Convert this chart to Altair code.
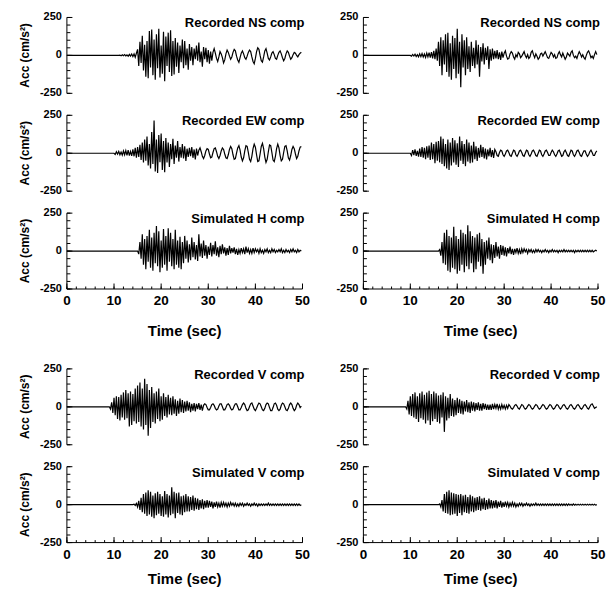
import altair as alt
import pandas as pd

FONT = "Liberation Sans"
DT = 0.25

# ---------------- traces (cm/s^2), sampled every 0.25 s from the start time ----------------
ns_left_t0 = 11
ns_left = [
    0, 2, -3, 4, -2, 5, -4, 3,
    -6, 7, -5, 9, -8, 10, -12, 14,
    40, -70, 90, -50, 130, -100, 70, -140,
    95, -150, 160, -80, 170, -130, 105, -160,
    140, -85, 175, -145, 65, -120, 155, -170,
    125, -70, 150, -110, 165, -135, 95, -125,
    115, -75, 85, -115, 65, -45, 105, -85,
    95, -65, 45, -95, 75, -35, 55, -65,
    45, -25, 65, -35, 85, -45, 25, -75,
    55, -25, 50, -45, 35, -55, 25, -35,
    20, 45, 15, -20, -40, -10, 25, 10,
    -15, -50, -30, 10, 35, 20, -5, -25,
    -10, 20, 40, 30, -5, -30, -45, -15,
    15, 30, 10, -15, -25, -5, 20, 35,
    25, -10, -40, -55, -20, 25, 50, 40,
    0, -35, -45, -10, 30, 45, 15, -20,
    -30, -10, 15, 25, 5, -20, -25, 0,
    20, 30, 10, -15, -35, -20, 10, 30,
    20, -5, -25, -15, 5, 20, 15, 0,
    -10, 5, 15, 20,
]

ew_left_t0 = 10
ew_left = [
    0, -8, 10, -6, 12, -10, 8, -12,
    15, -10, 18, -14, 20, -15, 12, -18,
    25, -20, 35, -30, 40, -25, 55, -45,
    70, -60, 90, -50, 110, -80, 60, -100,
    140, -70, 215, -120, 90, -130, 120, -60,
    130, -110, 80, -125, 100, -60, 70, -90,
    60, -40, 95, -70, 50, -30, 80, -55,
    40, -30, 60, -35, 45, -50, 30, -25,
    35, -20, 40, -30, 25, -40, 30, -15,
    20, 35, 10, -20, -35, -15, 15, 30,
    25, -5, -30, -25, 5, 30, 35, 10,
    -20, -35, -15, 15, 35, 25, -5, -30,
    -35, -10, 25, 45, 30, -10, -40, -35,
    0, 35, 50, 20, -25, -50, -30, 15,
    50, 45, 5, -40, -55, -20, 30, 60,
    40, -10, -55, -50, -5, 45, 65, 30,
    -25, -60, -40, 10, 55, 50, 5, -45,
    -55, -20, 30, 60, 35, -15, -50, -40,
    5, 45, 50, 15, -30, -45, -15, 25,
    45, 30, -5, -35, -20, 15, 40, 45,
]

simh_left_t0 = 15
simh_left = [
    0, -20, 60, -50, 110, -90, 80, -120,
    100, -70, 140, -110, 90, -130, 120, -80,
    165, -100, 130, -140, 70, -110, 145, -90,
    100, -130, 150, -70, 120, -100, 80, -120,
    140, -90, 70, -110, 95, -120, 60, -80,
    100, -50, 70, -75, 45, -60, 90, -40,
    60, -55, 40, -65, 110, -35, 50, -45,
    70, -30, 40, -50, 30, -25, 55, -35,
    40, -20, 65, -30, 25, -40, 35, -20,
    45, -15, 25, -30, 20, -25, 35, -15,
    20, -10, 25, -20, 15, -25, 10, -15,
    20, -10, 15, -20, 30, -10, 15, -15,
    10, -15, 20, -10, 15, -5, 10, -15,
    15, -10, 5, -15, 10, -5, 15, -10,
    5, -10, 15, -5, 10, -10, 5, -5,
    10, -5, 15, -10, 5, -10, 10, -5,
    5, -10, 10, -5, 15, -5, 5, -10,
    10, -5, 5, 0,
]

ns_right_t0 = 10
ns_right = [
    0, -5, 6, -4, 8, -7, 5, -9,
    10, -8, 12, -11, 9, -13, 15, -10,
    18, -15, 22, -20, 30, -25, 45, -35,
    90, -70, 120, -130, 100, -60, 140, -110,
    150, -140, 80, -160, 130, -90, 115, -150,
    175, -120, 90, -210, 140, -80, 100, -130,
    120, -90, 60, -110, 90, -70, 50, -85,
    100, -60, 70, -140, 55, -40, 80, -60,
    50, -30, 60, -90, 40, -35, 45, -25,
    30, -20, 35, -25, 20, -30, 25, -15,
    15, 30, -5, -25, -20, 10, 25, 15,
    -10, -25, 5, -10, 20, 10, -15, -5,
    10, 25, 0, -15, 5, -20, -10, 20,
    30, 5, -15, 10, -5, -25, -15, 10,
    15, -5, 10, 25, 5, -15, -20, 0,
    20, 10, -10, 5, -20, -15, 10, 25,
    5, -10, 15, -5, -25, -10, 15, 5,
    -5, 20, 30, 0, -15, -5, -20, 5,
    25, 10, -10, 5, -15, -25, 0, 20,
    30, 10, -15, -5, -20, 5, 25, 5,
]

ew_right_t0 = 10
ew_right = [
    0, -15, 20, -12, 25, -18, 15, -22,
    30, -25, 40, -30, 35, -40, 45, -30,
    50, -45, 70, -40, 60, -65, 75, -50,
    80, -60, 110, -70, 95, -85, 60, -100,
    90, -110, 70, -80, 100, -60, 85, -75,
    65, -90, 110, -50, 80, -70, 60, -85,
    90, -55, 70, -65, 50, -60, 75, -40,
    45, -50, 35, -30, 55, -25, 40, -35,
    30, -40, 25, -20, 35, -25, 20, -30,
    25, 10, -15, -20, 5, 20, 15, -10,
    -20, -5, 15, 20, 5, -15, -20, 0,
    20, 15, -10, -20, -5, 15, 20, 5,
    -15, -20, 0, 20, 15, -10, -20, -5,
    15, 20, 5, -15, -20, 0, 20, 15,
    -10, -20, -5, 15, 20, 5, -15, -15,
    5, 20, 10, -10, -20, -5, 15, 20,
    0, -20, -15, 10, 20, 5, -15, -20,
    0, 20, 15, -10, -20, -5, 15, 20,
    5, -15, -20, 0, 15, 15, -5, -20,
    -10, 10, 20, 5, -15, -15, 5, 15,
]

simh_right_t0 = 16
simh_right = [
    0, 10, -30, 60, -80, 120, -90, 140,
    -130, 100, -140, 90, -110, 160, -120, 100,
    -150, 80, -130, 140, -90, 120, -140, 110,
    -100, 170, -120, 130, -80, 100, -140, 90,
    -120, 110, -70, 120, -100, 80, -150, 60,
    -90, 70, -50, 90, -60, 45, -80, 40,
    -45, 60, -35, 30, -50, 40, -25, 35,
    -30, 25, -35, 20, -15, 30, -20, 15,
    -25, 15, -10, 20, -15, 10, -20, 15,
    -10, 15, -5, 10, -15, 10, -5, 10,
    -10, 5, -10, 10, -5, 10, -5, 5,
    -10, 5, -5, 10, -5, 5, -10, 5,
    -5, 10, -5, 5, -5, 5, -10, 5,
    -5, 5, -5, 10, -5, 5, -5, 5,
    -5, 5, -5, 5, -10, 5, -5, 5,
    -5, 5, -5, 5, -5, 5, -5, 5,
    -5, 5, -5, 5, -5, 0, 5, 0,
]

v_left_t0 = 9
v_left = [
    0, -15, 30, -40, 60, -55, 70, -80,
    65, -90, 80, -70, 95, -85, 110, -75,
    90, -130, 100, -120, 85, -95, 120, -110,
    140, -100, 160, -130, 120, -150, 185, -120,
    150, -190, 110, -140, 130, -100, 90, -110,
    100, -80, 120, -95, 70, -85, 90, -60,
    65, -70, 80, -50, 60, -55, 70, -45,
    50, -60, 40, -45, 55, -35, 45, -40,
    35, -30, 40, -25, 30, -35, 20, -25,
    25, -30, 20, -15, 25, -20, 15, -25,
    10, 20, 15, -5, -20, -20, -5, 15,
    20, 10, -10, -20, -15, 5, 20, 20,
    0, -20, -20, -5, 15, 20, 10, -10,
    -20, -15, 5, 20, 20, 0, -20, -20,
    -5, 15, 25, 15, -10, -25, -20, 0,
    20, 25, 5, -15, -25, -10, 10, 25,
    20, 0, -20, -25, -10, 15, 25, 20,
    -5, -25, -25, -5, 20, 25, 10, -15,
    -25, -15, 10, 25, 20, 0, -20, -25,
    -10, 15, 25, 15, -10, -25, -15, 10,
    25, 15, -5, 5,
]

simv_left_t0 = 14
simv_left = [
    0, 3, -5, 8, -15, 25, -35, 45,
    -50, 70, -60, 80, -75, 95, -65, 85,
    -80, 60, -90, 75, -70, 85, -60, 70,
    -75, 55, -80, 90, -65, 70, -85, 60,
    -70, 115, -60, 85, -90, 75, -55, 80,
    -65, 55, -70, 60, -50, 70, -45, 55,
    -45, 50, -35, 60, -40, 45, -30, 40,
    -35, 30, -25, 35, -30, 25, -20, 30,
    -20, 25, -15, 20, -25, 15, -15, 20,
    -15, 10, -20, 15, -10, 15, -10, 10,
    -15, 10, -10, 15, -5, 10, -10, 10,
    -10, 5, -10, 10, -5, 10, -10, 5,
    -5, 10, -5, 5, -10, 5, -5, 10,
    -5, 5, -10, 5, -5, 5, -5, 5,
    -5, 5, -5, 10, -5, 5, -5, 5,
    -5, 5, -5, 5, -5, 5, -5, 5,
    -5, 5, -5, 5, -5, 5, -5, 5,
    -5, 5, -5, 5, -5, 5, -5, 0,
]

v_right_t0 = 9
v_right = [
    0, -15, 40, -50, 70, -60, 85, -70,
    95, -80, 70, -100, 90, -75, 100, -85,
    80, -110, 95, -90, 105, -120, 85, -95,
    100, -80, 90, -100, 75, -110, 80, -70,
    95, -165, 70, -90, 60, -75, 85, -60,
    55, -65, 45, -55, 60, -40, 50, -45,
    40, -50, 35, -30, 45, -35, 30, -40,
    35, -25, 30, -30, 25, -20, 30, -25,
    20, -25, 25, -15, 20, -20, 15, -20,
    15, -20, 20, -15, 15, -10, 20, -15,
    10, -15, 15, -10, 10, -15, 10, -10,
    15, 5, -10, -15, -5, 10, 15, 5,
    -10, -15, 0, 15, 10, -5, -15, -10,
    5, 15, 10, -5, -15, -10, 5, 15,
    10, -5, -15, -10, 5, 15, 10, -5,
    -15, -10, 5, 15, 10, -5, -15, -10,
    5, 15, 10, -5, -15, -5, 10, 15,
    5, -10, -15, -5, 10, 15, 5, -10,
    -15, -5, 10, 15, 5, -10, -15, -5,
    10, 15, 5, -10, -15, 0, 15, 20,
    5, -10, -5, 0,
]

simv_right_t0 = 16
simv_right = [
    0, 5, -15, 30, -45, 70, -55, 85,
    -60, 95, -70, 80, -65, 75, -60, 70,
    -75, 65, -55, 70, -70, 60, -50, 65,
    -55, 50, -60, 65, -45, 55, -50, 45,
    -40, 50, -35, 55, -40, 40, -30, 45,
    -35, 30, -30, 40, -25, 30, -25, 25,
    -20, 30, -25, 20, -15, 25, -20, 15,
    -15, 20, -10, 15, -15, 10, -10, 15,
    -10, 10, -15, 5, -10, 10, -5, 10,
    -10, 5, -5, 10, -5, 5, -10, 5,
    -5, 5, -5, 10, -5, 5, -5, 5,
    -5, 5, -5, 5, -5, 5, -5, 5,
    -5, 5, -5, 5, -5, 5, -5, 5,
    -5, 5, -5, 5, -5, 5, -5, 5,
    -3, 3, -5, 5, -3, 3, -3, 3,
    -3, 3, -3, 3, -3, 3, -3, 3,
    -3, 3, -3, 3, -3, 3, -3, 0,
]

Y_MINOR = [-250, -200, -150, -100, -50, 0, 50, 100, 150, 200, 250]
Y_MAJOR = [-250, 0, 250]
Y_LABELS = ["-250", "0", "250"]
X_MINOR = [0, 2, 4, 6, 8, 10, 12, 14, 16, 18, 20, 22, 24, 26, 28, 30, 32, 34, 36, 38,
           40, 42, 44, 46, 48, 50]
X_MAJOR = [0, 10, 20, 30, 40, 50]
X_LABELS = ["0", "10", "20", "30", "40", "50"]
Y_TITLE = "Acc (cm/s²)"
X_TITLE = "Time (sec)"

H = 76
W_LEFT = 236
W_RIGHT = 235

xscale = alt.Scale(domain=[0, 50], nice=False, zero=False)
yscale = alt.Scale(domain=[-250, 250], nice=False)


def trace_frame(t0, vals):
    t = [0.0] + [t0 + i * DT for i in range(len(vals))]
    a = [0] + list(vals)
    return pd.DataFrame({"t": t, "acc": a})


def txt_mark(**kw):
    base = dict(font=FONT, fontWeight="bold", color="black")
    base.update(kw)
    return base


def panel(t0, vals, label, w, left, bottom, title_off=42):
    df = trace_frame(t0, vals)
    line = alt.Chart(df).mark_line(color="black", strokeWidth=1.2).encode(
        x=alt.X("t:Q", scale=xscale, axis=None),
        y=alt.Y("acc:Q", scale=yscale, axis=None),
    )
    one = pd.DataFrame({"label": [label]})
    ydomain = alt.Chart(one).mark_rule(color="black", strokeWidth=1).encode(
        x=alt.value(0), y=alt.value(0), y2=alt.value(H))
    yminor = alt.Chart(pd.DataFrame({"v": Y_MINOR})).mark_rule(
        color="black", strokeWidth=1).encode(
        y=alt.Y("v:Q", scale=yscale, axis=None),
        x=alt.value(0), x2=alt.value(3.5))
    ymajor = alt.Chart(pd.DataFrame({"v": Y_MAJOR})).mark_rule(
        color="black", strokeWidth=1).encode(
        y=alt.Y("v:Q", scale=yscale, axis=None),
        x=alt.value(0), x2=alt.value(5.5))
    ylabels = alt.Chart(pd.DataFrame({"v": Y_MAJOR, "lab": Y_LABELS})).mark_text(
        **txt_mark(align="right", baseline="middle", fontSize=11)).encode(
        y=alt.Y("v:Q", scale=yscale, axis=None),
        x=alt.value(-5), text="lab:N")
    ann = alt.Chart(one).mark_text(
        **txt_mark(align="right", baseline="top", fontSize=13)).encode(
        x=alt.value(w + 2), y=alt.value(0), text="label:N")
    layers = [line, ydomain, yminor, ymajor, ylabels, ann]
    if left:
        ytitle = alt.Chart(pd.DataFrame({"lab": [Y_TITLE]})).mark_text(
            **txt_mark(align="center", baseline="middle", fontSize=12, angle=270)).encode(
            x=alt.value(-42), y=alt.value(H / 2), text="lab:N")
        layers.append(ytitle)
    if bottom:
        xdomain = alt.Chart(one).mark_rule(color="black", strokeWidth=1).encode(
            x=alt.value(0), x2=alt.value(w), y=alt.value(H))
        xminor = alt.Chart(pd.DataFrame({"v": X_MINOR})).mark_rule(
            color="black", strokeWidth=1).encode(
            x=alt.X("v:Q", scale=xscale, axis=None),
            y=alt.value(H), y2=alt.value(H - 2.5))
        xmajor = alt.Chart(pd.DataFrame({"v": X_MAJOR})).mark_rule(
            color="black", strokeWidth=1).encode(
            x=alt.X("v:Q", scale=xscale, axis=None),
            y=alt.value(H), y2=alt.value(H - 5.5))
        xlabels = alt.Chart(pd.DataFrame({"v": X_MAJOR, "lab": X_LABELS})).mark_text(
            **txt_mark(align="center", baseline="middle", fontSize=13.5)).encode(
            x=alt.X("v:Q", scale=xscale, axis=None),
            y=alt.value(H + 12), text="lab:N")
        xtitle = alt.Chart(pd.DataFrame({"lab": [X_TITLE]})).mark_text(
            **txt_mark(align="center", baseline="middle", fontSize=15)).encode(
            x=alt.value(w / 2), y=alt.value(H + title_off), text="lab:N")
        layers += [xdomain, xminor, xmajor, xlabels, xtitle]
    return alt.layer(*layers).properties(width=w, height=H)


left_top = alt.vconcat(
    panel(ns_left_t0, ns_left, "Recorded NS comp", W_LEFT, True, False),
    panel(ew_left_t0, ew_left, "Recorded EW comp", W_LEFT, True, False),
    panel(simh_left_t0, simh_left, "Simulated H comp", W_LEFT, True, True, 42),
    spacing=22, bounds="flush")
right_top = alt.vconcat(
    panel(ns_right_t0, ns_right, "Recorded NS comp", W_RIGHT, False, False),
    panel(ew_right_t0, ew_right, "Recorded EW comp", W_RIGHT, False, False),
    panel(simh_right_t0, simh_right, "Simulated H comp", W_RIGHT, False, True, 42),
    spacing=22, bounds="flush")
left_bot = alt.vconcat(
    panel(v_left_t0, v_left, "Recorded V comp", W_LEFT, True, False),
    panel(simv_left_t0, simv_left, "Simulated V comp", W_LEFT, True, True, 36),
    spacing=22, bounds="flush")
right_bot = alt.vconcat(
    panel(v_right_t0, v_right, "Recorded V comp", W_RIGHT, False, False),
    panel(simv_right_t0, simv_right, "Simulated V comp", W_RIGHT, False, True, 36),
    spacing=22, bounds="flush")

top = alt.hconcat(left_top, right_top, spacing=25)
bot = alt.hconcat(left_bot, right_bot, spacing=25)

chart = alt.vconcat(top, bot, spacing=24).properties(
    padding={"left": 11, "top": 3, "right": 0, "bottom": 1},
    background="white",
).configure_view(stroke=None)

chart.save("out.html", embed_options={"renderer": "svg", "actions": False})
